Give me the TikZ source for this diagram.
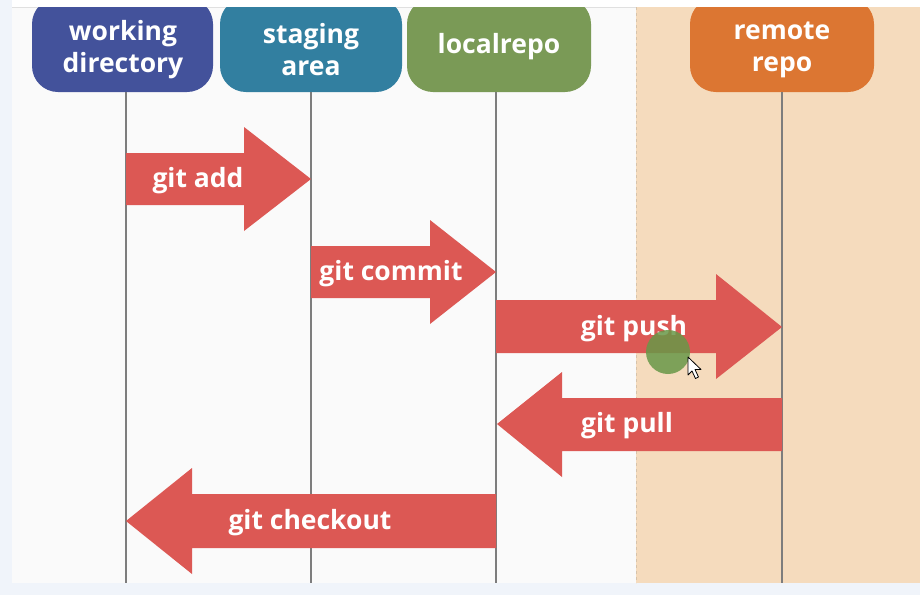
\documentclass[tikz,border=0pt]{standalone}
\usepackage{fontspec}
\newfontfamily\osfont{Open Sans}
\definecolor{cwd}{RGB}{67,82,155}
\definecolor{cst}{RGB}{50,127,160}
\definecolor{clr}{RGB}{122,154,86}
\definecolor{crm}{RGB}{220,118,50}
\definecolor{carr}{RGB}{220,88,84}
\definecolor{cbeige}{RGB}{245,219,189}
\definecolor{cbeigeedge}{RGB}{215,195,170}
\definecolor{couter}{RGB}{240,244,250}
\definecolor{cinner}{RGB}{250,250,250}
\definecolor{cline}{RGB}{125,125,125}
\definecolor{cdot}{RGB}{104,152,72}
\tikzset{
  hdrbox/.style={rounded corners=26pt, inner sep=0pt, minimum height=94pt},
  hdrtext/.style={text=white, font=\osfont\bfseries\fontsize{26.5}{32}\selectfont, align=center, inner sep=0pt},
  arrtext/.style={text=white, font=\osfont\bfseries\fontsize{26.5}{32}\selectfont, inner sep=0pt},
  lane/.style={draw=cline, line width=1.4pt},
  bigarrow/.style={fill=carr, draw=none}
}
\begin{document}
\begin{tikzpicture}[x=1pt,y=-1pt]
\useasboundingbox (0,0) rectangle (920,595);
% background
\fill[couter] (0,0) rectangle (920,595);
\fill[white] (12,0) rectangle (920,7);
\fill[cinner] (12,7) rectangle (920,583);
\draw[black!12, line width=0.8pt] (12,7) -- (920,7);
% remote region
\fill[cbeige] (636,7) rectangle (920,583);
\draw[cbeigeedge, dashed, line width=1pt] (636,7) -- (636,583);
% header boxes
\begin{scope}
\clip (0,7) rectangle (920,595);
\node[hdrbox, fill=cwd, minimum width=181pt] (wd) at (122.5,45) {};
\node[hdrbox, fill=cst, minimum width=182pt] (st) at (311,45) {};
\node[hdrbox, fill=clr, minimum width=184pt] (lr) at (499,45) {};
\node[hdrbox, fill=crm, minimum width=184pt] (rm) at (782,45) {};
\end{scope}
\node[hdrtext] (wdt) at (123,50) {working\\directory};
\node[hdrtext] (stt) at (311,50) {staging\\area};
\node[hdrtext] (lrt) at (499,47) {localrepo};
\node[hdrtext] (rmt) at (782,50) {remote\\repo};
% lanes
\coordinate (wdb) at (126,583);
\coordinate (stb) at (311,583);
\coordinate (lrb) at (496,583);
\coordinate (rmb) at (782,583);
\draw[lane] (wdb |- wd.south) -- (wdb);
\draw[lane] (stb |- st.south) -- (stb);
\draw[lane] (lrb |- lr.south) -- (lrb);
\draw[lane] (rmb |- rm.south) -- (rmb);
% git add
\fill[bigarrow] (126,153) -- (244,153) -- (244,127) -- (311,179) -- (244,231) -- (244,205) -- (126,205) -- cycle;
\node[arrtext] (add) at (198,181) {git add};
% git commit
\fill[bigarrow] (311,246) -- (430,246) -- (430,220) -- (496,272) -- (430,324) -- (430,298) -- (311,298) -- cycle;
\node[arrtext] (commit) at (391,274) {git commit};
% git push
\fill[bigarrow] (496,300) -- (716,300) -- (716,274) -- (782,327) -- (716,379) -- (716,353) -- (496,353) -- cycle;
\node[arrtext] (push) at (634,329) {git push};
% git pull
\fill[bigarrow] (782,398) -- (562,398) -- (562,372) -- (497,424) -- (562,477) -- (562,451) -- (782,451) -- cycle;
\node[arrtext] (pull) at (627,426) {git pull};
% git checkout
\fill[bigarrow] (496,494) -- (192,494) -- (192,468) -- (126,521) -- (192,574) -- (192,548) -- (496,548) -- cycle;
\node[arrtext] (checkout) at (310,523) {git checkout};
% pointer highlight and cursor
\fill[cdot, opacity=0.85] (668,352) circle (22pt);
\filldraw[fill=white, draw=black, line width=0.8pt, line join=round]
  (688,357) -- (688,375) -- (692,371) -- (695.5,378.5) -- (698.5,377) -- (695,369.5) -- (701,369.5) -- cycle;
\end{tikzpicture}
\end{document}
